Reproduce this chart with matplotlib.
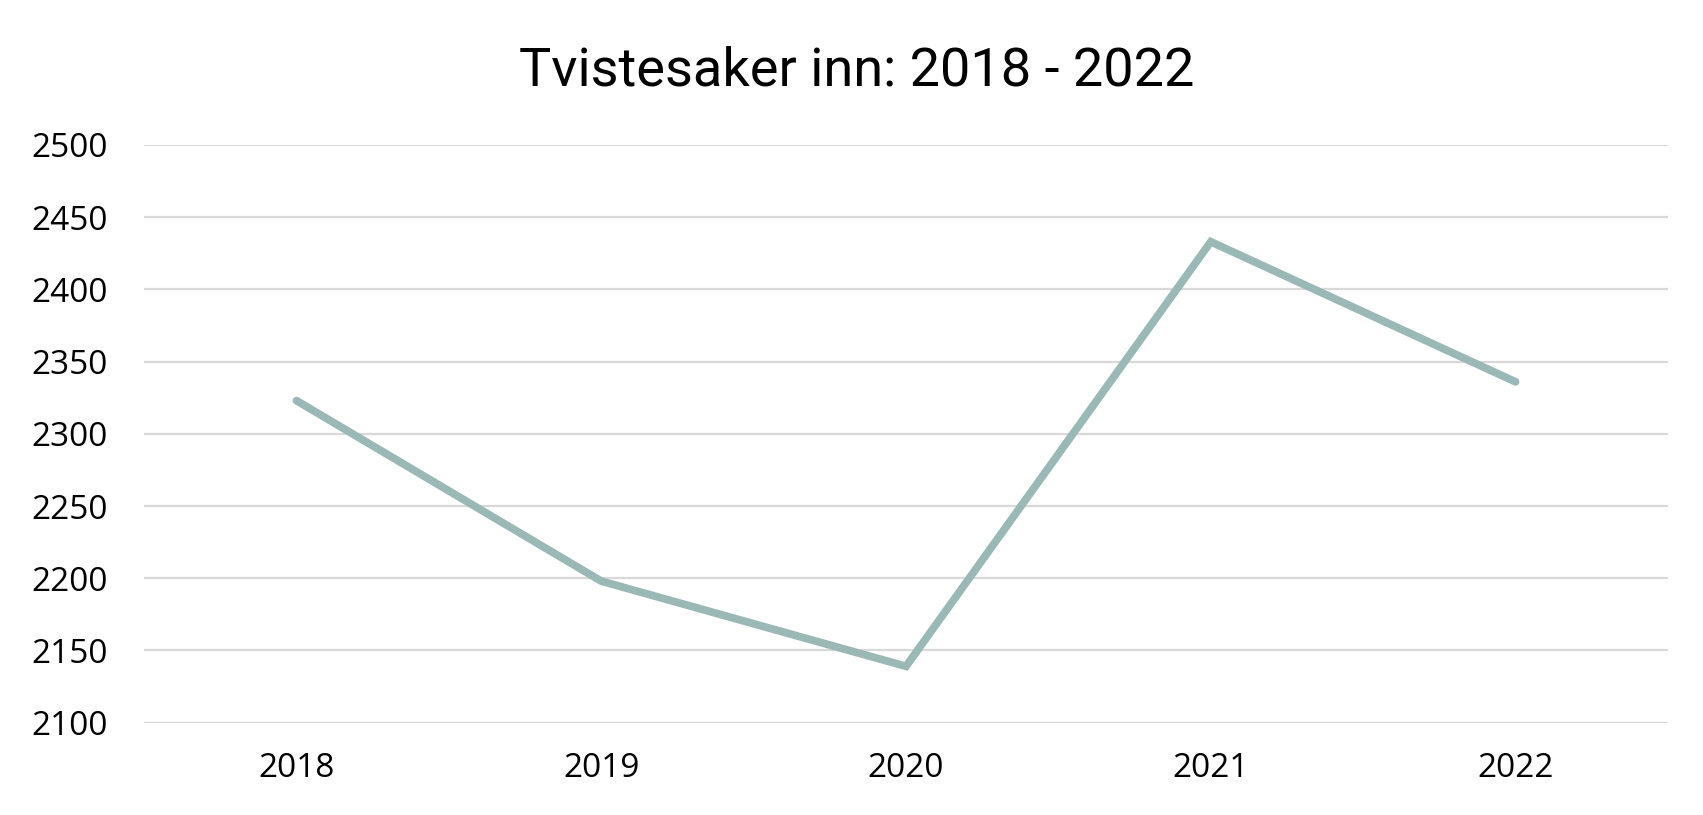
import matplotlib
matplotlib.use("Agg")
import matplotlib.pyplot as plt

years = ["2018", "2019", "2020", "2021", "2022"]
cases = [2323, 2198, 2139, 2433, 2336]
yticks = [2100, 2150, 2200, 2250, 2300, 2350, 2400, 2450, 2500]

plt.rcParams['font.family'] = ['Roboto', 'DejaVu Sans']

fig = plt.figure(figsize=(17.03, 8.15), dpi=100)
ax = fig.add_axes([0.0846, 0.1133, 0.8948, 0.7088])

x = list(range(len(years)))
ax.plot(x, cases, color="#99B8B6", linewidth=5.6, solid_capstyle="round",
        solid_joinstyle="miter", zorder=3)

ax.set_xlim(-0.5, len(years) - 0.5)
ax.set_ylim(2100, 2500)
ax.set_yticks(yticks)
ax.set_yticklabels([str(v) for v in yticks], family=['Open Sans', 'DejaVu Sans'])
ax.set_xticks(x)
ax.set_xticklabels(years, family=['Open Sans', 'DejaVu Sans'])

ax.grid(axis="y", color="#D9D9D9", linewidth=1.6, zorder=0)
ax.grid(axis="x", visible=False)
for s in ax.spines.values():
    s.set_visible(False)
ax.tick_params(axis="y", length=0, pad=26, labelsize=24, labelcolor="black")
ax.tick_params(axis="x", length=0, pad=21, labelsize=24, labelcolor="black")

fig.text(0.503, 0.8957, "Tvistesaker inn: 2018 - 2022", ha="center", va="baseline",
         fontsize=39, color="black")

fig.savefig("out.png", dpi=100, facecolor="white")
